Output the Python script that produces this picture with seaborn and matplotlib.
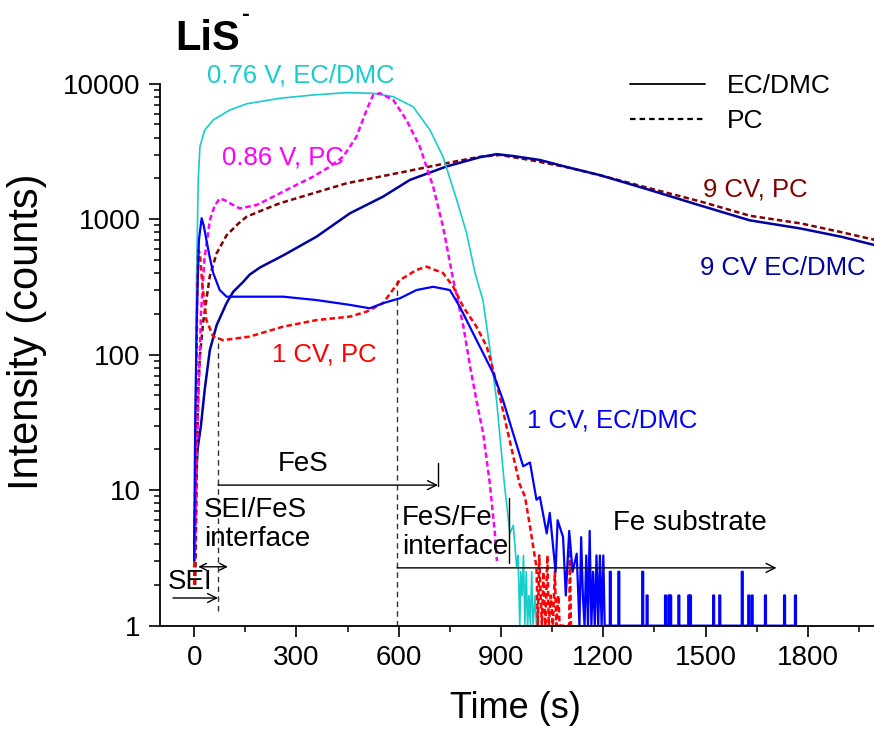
import numpy as np
import pandas as pd
import matplotlib
matplotlib.use("Agg")
import matplotlib.pyplot as plt
from matplotlib.lines import Line2D
import seaborn as sns

# ---------------- data ----------------
cyan_t = [0, 3, 5, 7, 12, 17, 31, 56, 105, 154, 251, 348, 447, 524, 584, 642, 692, 730,
          770, 799, 824, 847, 868, 887, 910, 926, 936, 946, 950, 955, 958, 962, 966, 970,
          974, 978, 982, 986, 990, 994, 1000, 1004]
cyan_i = [3, 5, 60, 355, 1950, 3430, 4540, 5400, 6400, 7100, 7800, 8250, 8590, 8490, 8020,
          6760, 4540, 2890, 1390, 790, 400, 252, 108, 46, 11, 4.8, 5.5, 2.7, 3.3, 1, 2.5,
          1.67, 3.3, 1, 2.5, 1, 1.67, 1, 2.5, 1, 1.67, 1]

magenta_t = [2, 5, 8, 12, 20, 30, 46, 60, 75, 90, 105, 134, 183, 232, 290, 349, 398, 437,
             476, 506, 525, 545, 584, 623, 662, 701, 730, 760, 790, 810, 828, 848, 867, 882, 888]
magenta_i = [3, 8, 20, 42, 200, 500, 980, 1250, 1425, 1380, 1310, 1200, 1273, 1465, 1740,
             2060, 2440, 2890, 4060, 6400, 8250, 8500, 7580, 5380, 3430, 1740, 880, 355, 160,
             80, 46, 26, 11.3, 4.8, 3]

maroon_t = [3, 5, 8, 12, 17, 26, 46, 66, 95, 130, 154, 202, 251, 349, 447, 545, 642, 740,
            838, 897, 985, 1100, 1200, 1340, 1490, 1630, 1780, 1900, 2000]
maroon_i = [2, 4, 15, 55, 97, 170, 380, 560, 760, 930, 1043, 1170, 1310, 1553, 1840, 2060,
            2307, 2590, 2890, 2980, 2735, 2400, 2080, 1680, 1340, 1060, 930, 800, 700]

navy_t = [0, 5, 10, 20, 31, 46, 66, 95, 114, 144, 163, 193, 261, 359, 457, 554, 633, 740,
          838, 887, 936, 1014, 1100, 1190, 1337, 1483, 1630, 1777, 1900, 2000]
navy_i = [4, 12, 20, 30, 55, 108, 165, 240, 290, 345, 390, 440, 540, 743, 1106, 1467, 1950,
          2450, 2865, 3020, 2925, 2735, 2400, 2115, 1640, 1265, 980, 855, 740, 640]

red_t = [0, 3, 6, 9, 12, 17, 24, 36, 56, 85, 163, 261, 359, 457, 506, 554, 604, 652, 682,
         730, 760, 789, 828, 858, 877, 900, 921, 955, 970, 985, 1004, 1008, 1012, 1016, 1020,
         1024, 1030, 1036, 1040, 1046, 1052, 1058, 1062, 1068, 1072, 1100, 1102, 1105]
red_i = [2, 10, 60, 250, 590, 560, 330, 180, 136, 128, 136, 161, 180, 191, 208, 240, 356,
         422, 446, 400, 317, 226, 161, 115, 77, 45, 26, 11, 9, 5.4, 2.7, 1, 3.3, 1.67, 1,
         2.5, 1, 3.3, 1, 1.67, 1, 2.5, 1, 1.67, 1, 1, 3.9, 1]

blue_t = [0, 3, 8, 14, 22, 28, 36, 46, 56, 75, 95, 163, 261, 359, 457, 515, 554, 604, 652,
          701, 750, 779, 818, 848, 877, 906, 936, 965, 985, 1004, 1014, 1034, 1043, 1060,
          1066, 1082, 1090, 1100, 1110, 1122, 1130, 1135, 1140, 1145, 1150, 1155, 1160,
          1165, 1170, 1175, 1180, 1185, 1190, 1195, 1200, 1204]
blue_i = [3, 30, 200, 700, 1016, 900, 702, 520, 400, 300, 268, 268, 268, 253, 233, 220, 240,
          261, 300, 317, 300, 226, 144, 102, 73, 46, 26, 15, 16, 8.5, 8.9, 4.8, 6.8, 2.5, 6,
          4.5, 1.67, 5, 2.5, 3.4, 1, 4.5, 1.67, 1, 3.3, 1, 5, 1, 2.5, 1, 3.3, 1, 3.3, 1,
          3.3, 1]
# isolated counts in the Fe-substrate region (1 CV, EC/DMC)
blue_spike_t = [1219, 1244, 1314, 1327, 1381, 1391, 1396, 1420, 1449, 1454, 1522, 1540,
                1606, 1625, 1635, 1674, 1730, 1762]
blue_spike_i = [2.5, 2.5, 2.5, 1.67, 1.67, 1.67, 1.67, 1.67, 1.67, 1.67, 1.67, 1.67,
                2.5, 1.67, 1.67, 1.67, 1.67, 1.67]

x_ticks = [0, 300, 600, 900, 1200, 1500, 1800]
y_ticks = [1, 10, 100, 1000, 10000]
y_tick_labels = ["1", "10", "100", "1000", "10000"]

# ---------------- build tables ----------------
spk_t, spk_i = [], []
for s, v in zip(blue_spike_t, blue_spike_i):
    spk_t += [s, s, s + 3, s + 3]
    spk_i += [1, v, v, 1]

series = {
    "maroon": pd.DataFrame({"t": maroon_t, "I": maroon_i}),
    "navy": pd.DataFrame({"t": navy_t, "I": navy_i}),
    "cyan": pd.DataFrame({"t": cyan_t, "I": cyan_i}),
    "magenta": pd.DataFrame({"t": magenta_t, "I": magenta_i}),
    "red": pd.DataFrame({"t": red_t, "I": red_i}),
    "blue": pd.DataFrame({"t": blue_t + spk_t, "I": blue_i + spk_i}),
}

styles = {
    "maroon": dict(color="#800000", lw=1.8, linestyle=(0, (2.2, 1.3))),
    "navy": dict(color="#0000A0", lw=1.8, linestyle="-"),
    "cyan": dict(color="#19CCCC", lw=1.2, linestyle="-"),
    "magenta": dict(color="#FF00FF", lw=1.8, linestyle=(0, (2.2, 1.3))),
    "red": dict(color="#FF0000", lw=1.8, linestyle=(0, (2.2, 1.3))),
    "blue": dict(color="#0000FF", lw=1.6, linestyle="-"),
}

# ---------------- figure ----------------
sns.set_theme(style="ticks")
plt.rcParams["font.family"] = ["Liberation Sans", "DejaVu Sans"]
plt.rcParams["text.color"] = "black"
plt.rcParams["axes.labelcolor"] = "black"
plt.rcParams["xtick.color"] = "black"
plt.rcParams["ytick.color"] = "black"

fig = plt.figure(figsize=(8.74, 7.31), dpi=100)
ax = fig.add_axes([0.1831, 0.1441, 0.8193, 0.7414])

for name, df in series.items():
    sns.lineplot(data=df, x="t", y="I", ax=ax, estimator=None, sort=False, **styles[name])

ax.set_yscale("log")
ax.set_xticks(x_ticks)
ax.set_xticks(np.arange(-150, 2001, 150), minor=True)
ax.set_yticks(y_ticks)
ax.set_yticklabels(y_tick_labels)
ax.yaxis.set_minor_locator(matplotlib.ticker.LogLocator(base=10, subs=np.arange(2, 10)))
ax.yaxis.set_minor_formatter(matplotlib.ticker.NullFormatter())
ax.set_xlim(-100, 2000)
ax.set_ylim(1, 10000)

for s in ["top", "right"]:
    ax.spines[s].set_visible(False)
for s in ["left", "bottom"]:
    ax.spines[s].set_linewidth(1.3)
    ax.spines[s].set_color("black")

ax.tick_params(axis="both", which="major", direction="out", length=8, width=1.2,
               labelsize=20, colors="black", pad=6)
ax.tick_params(axis="both", which="minor", direction="out", length=4.5, width=1.1,
               colors="black")
ax.tick_params(axis="x", top=False)
ax.tick_params(axis="y", right=False)

ax.set_xlabel("Time (s)", fontsize=26, va="center", color="black")
ax.set_ylabel("Intensity (counts)", fontsize=30, va="center", color="black")
ax.xaxis.set_label_coords(0.497, -0.152)
ax.yaxis.set_label_coords(-0.186, 0.542)

# title
fig.text(175 / 874, 1 - 50 / 731, "LiS", fontsize=30, fontweight="bold", va="baseline",
         color="black")
fig.text(241 / 874, 1 - 15 / 731, "-", fontsize=17, fontweight="bold", va="center",
         color="black")

# curve labels
lab_fs = 18.5
ax.text(37, 11590, "0.76 V, EC/DMC", color="#19CCCC", fontsize=lab_fs, va="center")
ax.text(81, 2830, "0.86 V, PC", color="#FF00FF", fontsize=lab_fs, va="center")
ax.text(1492, 1643, "9 CV, PC", color="#800000", fontsize=lab_fs, va="center")
ax.text(1483, 436, "9 CV EC/DMC", color="#0000A0", fontsize=lab_fs, va="center")
ax.text(228, 101, "1 CV, PC", color="#FF0000", fontsize=lab_fs, va="center")
ax.text(976, 32.4, "1 CV, EC/DMC", color="#0000FF", fontsize=lab_fs, va="center")

# region annotations
ann_fs = 20
ax.text(245, 15.6, "FeS", fontsize=ann_fs, va="center", color="black")
ax.text(28, 5.58, "SEI/FeS\ninterface", fontsize=ann_fs, va="center", linespacing=1.15,
        color="black")
ax.text(609, 4.91, "FeS/Fe\ninterface", fontsize=ann_fs, va="center", linespacing=1.15,
        color="black")
ax.text(1228, 5.73, "Fe substrate", fontsize=ann_fs, va="center", color="black")
ax.text(-77, 2.10, "SEI", fontsize=ann_fs, va="center", color="black")

dash_kw = dict(color="#333333", lw=1.0, linestyle=(0, (4, 3)))
ax.plot([70, 70], [1.28, 135], **dash_kw)
ax.plot([595, 595], [1, 368], **dash_kw)
ax.plot([715, 715], [10.7, 16], color="black", lw=1.0)
ax.plot([924, 924], [2.9, 8.76], color="black", lw=1.0)

arr = dict(arrowstyle="->", lw=1.0, color="black", shrinkA=0, shrinkB=0, mutation_scale=16)
ax.annotate("", xy=(70, 1.6), xytext=(-62, 1.6), arrowprops=arr)
ax.annotate("", xy=(715, 10.9), xytext=(70, 10.9), arrowprops=arr)
ax.annotate("", xy=(1708, 2.67), xytext=(595, 2.67), arrowprops=arr)
ax.annotate("", xy=(99, 2.72), xytext=(12, 2.72),
            arrowprops=dict(arr, arrowstyle="<->", mutation_scale=12))

# legend
handles = [Line2D([], [], color="black", lw=1.3, linestyle="-"),
           Line2D([], [], color="black", lw=1.6, linestyle=(0, (2.5, 1.8)))]
leg = ax.legend(handles, ["EC/DMC", "PC"], loc="upper left",
                bbox_to_anchor=(630 / 874, 1 - 74 / 731), bbox_transform=fig.transFigure,
                frameon=False, borderpad=0, borderaxespad=0, handlelength=2.84,
                handletextpad=0.83, labelspacing=0.41, fontsize=19)
for t in leg.get_texts():
    t.set_color("black")

fig.savefig("out.png", dpi=100)
